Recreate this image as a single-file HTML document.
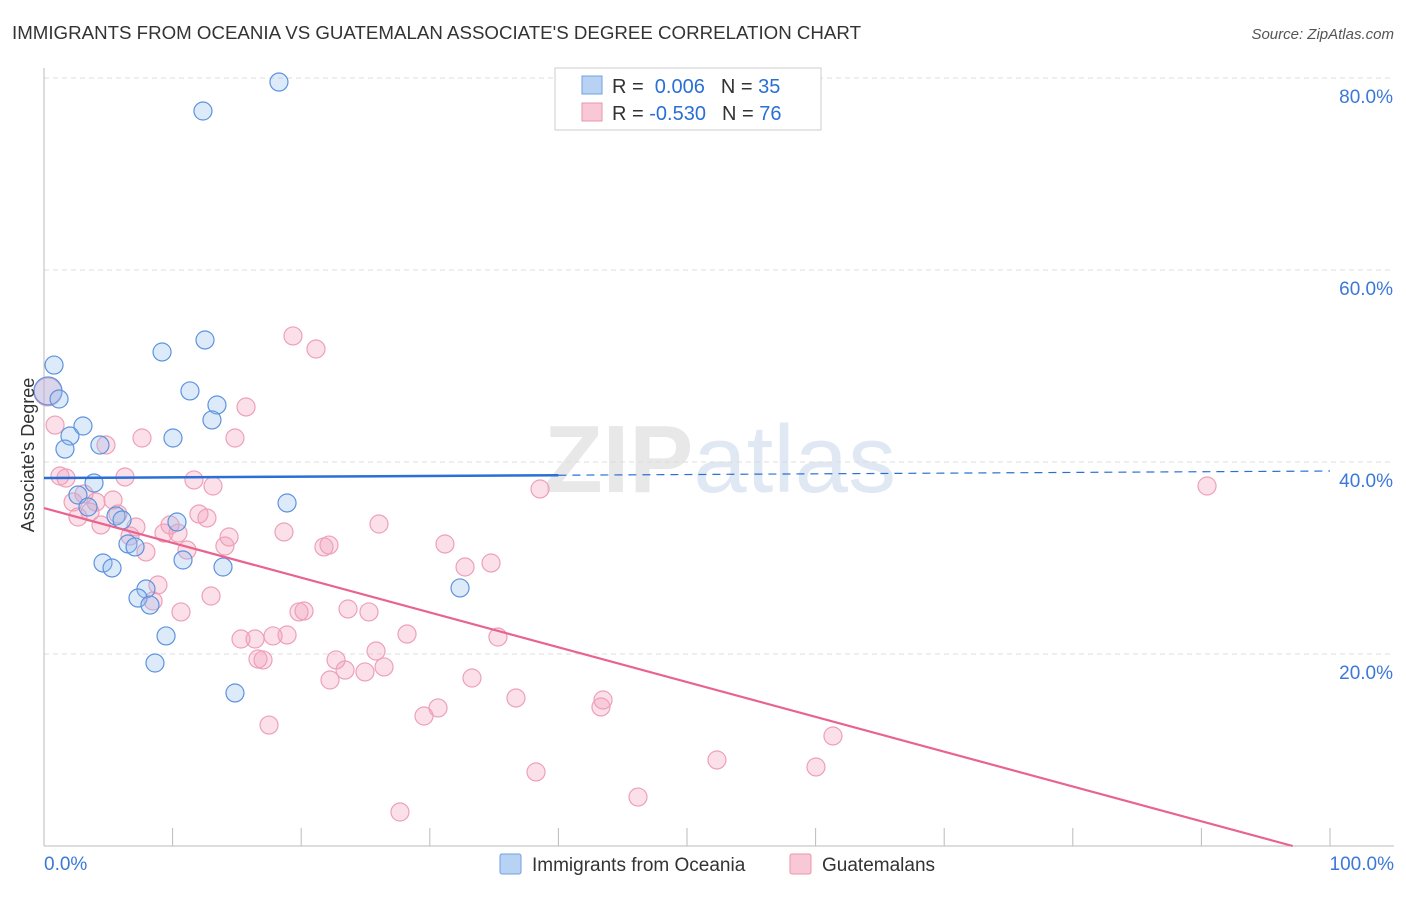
<!DOCTYPE html>
<html><head><meta charset="utf-8"><style>
body{margin:0;background:#fff;font-family:"Liberation Sans",sans-serif;}
svg text{font-family:"Liberation Sans",sans-serif;}
</style></head><body>
<svg id="chart" width="1406" height="892">
<text x="12" y="39" font-size="18" fill="#333" textLength="849" lengthAdjust="spacingAndGlyphs">IMMIGRANTS FROM OCEANIA VS GUATEMALAN ASSOCIATE'S DEGREE CORRELATION CHART</text>
<text x="1394" y="39" font-size="15" fill="#555" text-anchor="end" font-style="italic">Source: ZipAtlas.com</text>
<text x="720" y="492" font-size="96" fill="#e8e8e8" text-anchor="middle" font-family="Liberation Serif"><tspan font-weight="bold">ZIP</tspan><tspan fill="#e0e8f4" font-family="Liberation Sans">atlas</tspan></text>
<g id="grid"></g>
<g id="axes"></g>
<g id="pts"></g>
<g id="trends"></g>
<text transform="translate(34,455) rotate(-90)" font-size="18" fill="#333" text-anchor="middle">Associate's Degree</text>
<g>
<rect x="555" y="68" width="266" height="62" fill="#fff" stroke="#ccc"/>
<rect x="582" y="76" width="20" height="18" fill="#b8d2f4" stroke="#6fa0e0"/>
<rect x="582" y="103" width="20" height="18" fill="#f9c8d7" stroke="#ea93ad"/>
<text x="612" y="93" font-size="20" fill="#333">R = <tspan fill="#2a6fd6">&#160;0.006</tspan><tspan dx="16">N = </tspan><tspan fill="#2a6fd6">35</tspan></text>
<text x="612" y="120" font-size="20" fill="#333">R = <tspan fill="#2a6fd6">-0.530</tspan><tspan dx="16">N = </tspan><tspan fill="#2a6fd6">76</tspan></text>
</g>
<g>
<rect x="500" y="854" width="21" height="20" rx="2" fill="#b8d2f4" stroke="#6fa0e0"/>
<text x="532" y="871" font-size="19" fill="#333">Immigrants from Oceania</text>
<rect x="790" y="854" width="21" height="20" rx="2" fill="#f9c8d7" stroke="#ea93ad"/>
<text x="822" y="871" font-size="19" fill="#333">Guatemalans</text>
</g>
</svg>
<script>
const yTicks=[20,40,60,80];
const yTickLabels=["20.0%","40.0%","60.0%","80.0%"];
const xTickLabels=["0.0%","100.0%"];
const blueX=[18.27,12.36,0.78,9.18,12.52,0.31,1.17,3.03,2.02,1.63,4.35,10.03,11.35,13.45,13.06,3.89,2.64,3.42,5.6,6.07,18.9,10.34,6.53,7.08,4.59,5.29,10.81,13.92,7.93,7.31,8.24,9.49,8.63,32.35,14.85];
const blueY=[79.58,76.56,50.1,51.46,52.71,47.4,46.56,43.75,42.71,41.35,41.77,42.5,47.4,45.94,44.38,37.81,36.56,35.31,34.38,33.96,35.73,33.75,31.46,31.15,29.48,28.96,29.79,29.06,26.77,25.83,25.1,21.88,19.06,26.88,15.94];
const pinkX=[0.3,0.86,1.24,1.71,2.26,3.11,2.64,4.04,3.58,4.43,4.82,5.37,5.75,6.3,6.69,7.15,7.62,7.93,8.48,8.86,9.33,9.8,10.42,10.65,11.12,11.66,12.05,12.67,13.14,12.99,14.07,14.39,15.32,15.71,14.85,16.41,16.64,17.03,17.5,17.81,18.66,18.9,19.36,19.83,20.22,21.15,21.77,22.16,22.24,22.71,23.41,23.64,24.96,25.27,25.82,26.05,26.44,28.23,29.55,30.64,31.18,32.74,33.28,34.76,35.3,36.7,38.26,38.57,43.31,43.47,46.19,52.33,60.03,61.35,90.44,27.68];
const pinkY=[47.3,43.85,38.54,38.33,35.83,36.67,34.27,35.83,34.79,33.44,41.77,36.04,34.58,38.44,32.29,33.23,42.5,30.63,25.52,27.19,32.6,33.44,32.6,24.38,30.83,38.13,34.58,34.17,37.5,26.04,31.25,32.19,21.56,45.73,42.5,21.56,19.48,19.38,12.6,21.88,32.71,21.98,53.13,24.38,24.48,51.77,31.15,31.35,17.29,19.38,18.33,24.69,18.13,24.38,20.31,33.54,18.65,22.08,13.54,14.38,31.46,29.06,17.5,29.48,21.77,15.42,7.71,37.19,14.48,15.21,5.1,8.96,8.23,11.46,37.5,3.54];
const blueTrend=[38.33,39.06];
const pinkTrend=[35.2,-0.3625];
const NS="http://www.w3.org/2000/svg";
const X=v=>44+v*12.86, Y=v=>846-v*9.6;
function mk(t,a,p){const e=document.createElementNS(NS,t);for(const k in a)e.setAttribute(k,a[k]);p.appendChild(e);return e;}
const grid=document.getElementById('grid'),axes=document.getElementById('axes');
yTicks.forEach((t,i)=>{
 const l=mk('line',{x1:44,x2:1394,y1:Y(t),y2:Y(t),stroke:'#ddd','stroke-dasharray':'5,4'},grid);
 
 
 const tx=mk('text',{x:1393,y:Y(t)+25,'font-size':19,fill:'#3b78d8','text-anchor':'end'},axes);
 tx.textContent=yTickLabels[i];
 
 
});
const ax=mk('line',{x1:44,x2:44,y1:68,y2:846,stroke:'#bbb'},axes);


const xa=mk('line',{x1:44,x2:1394,y1:846,y2:846,stroke:'#bbb'},axes);


for(let i=0;i<=10;i++){const tk=mk('line',{x1:X(i*10),x2:X(i*10),y1:828,y2:846,stroke:'#bbb'},axes);
 
 }
[[0,'start',44],[100,'end',1394]].forEach((d,i)=>{const t=mk('text',{x:d[2],y:870,'font-size':19,fill:'#3b78d8','text-anchor':d[1]},axes);t.textContent=xTickLabels[i];
 
 });
const pts=document.getElementById('pts');
pinkX.forEach((x,i)=>{const c=mk('circle',{cx:X(x),cy:Y(pinkY[i]),r:i==0?14:9,fill:'rgba(244,160,188,0.32)',stroke:'#eea0b8','stroke-width':1.2},pts);
 
 });
blueX.forEach((x,i)=>{const c=mk('circle',{cx:X(x),cy:Y(blueY[i]),r:i==5?14:9,fill:'rgba(150,190,240,0.32)',stroke:'#5d93de','stroke-width':1.2},pts);
 
 });
const tr=document.getElementById('trends');
const bAt=x=>blueTrend[0]+(blueTrend[1]-blueTrend[0])*x/100;
const b1=mk('line',{x1:X(0),y1:Y(bAt(0)),x2:X(40),y2:Y(bAt(40)),stroke:'#2a6fd6','stroke-width':2.5},tr);


const b2=mk('line',{x1:X(40),y1:Y(bAt(40)),x2:X(100),y2:Y(bAt(100)),stroke:'#2a6fd6','stroke-width':1.2,'stroke-dasharray':'8,6'},tr);


const pEnd=-pinkTrend[0]/pinkTrend[1];
const p1=mk('line',{x1:X(0),y1:Y(pinkTrend[0]),x2:X(pEnd),y2:Y(0),stroke:'#e8648f','stroke-width':2.2},tr);


</script>
</body></html>
